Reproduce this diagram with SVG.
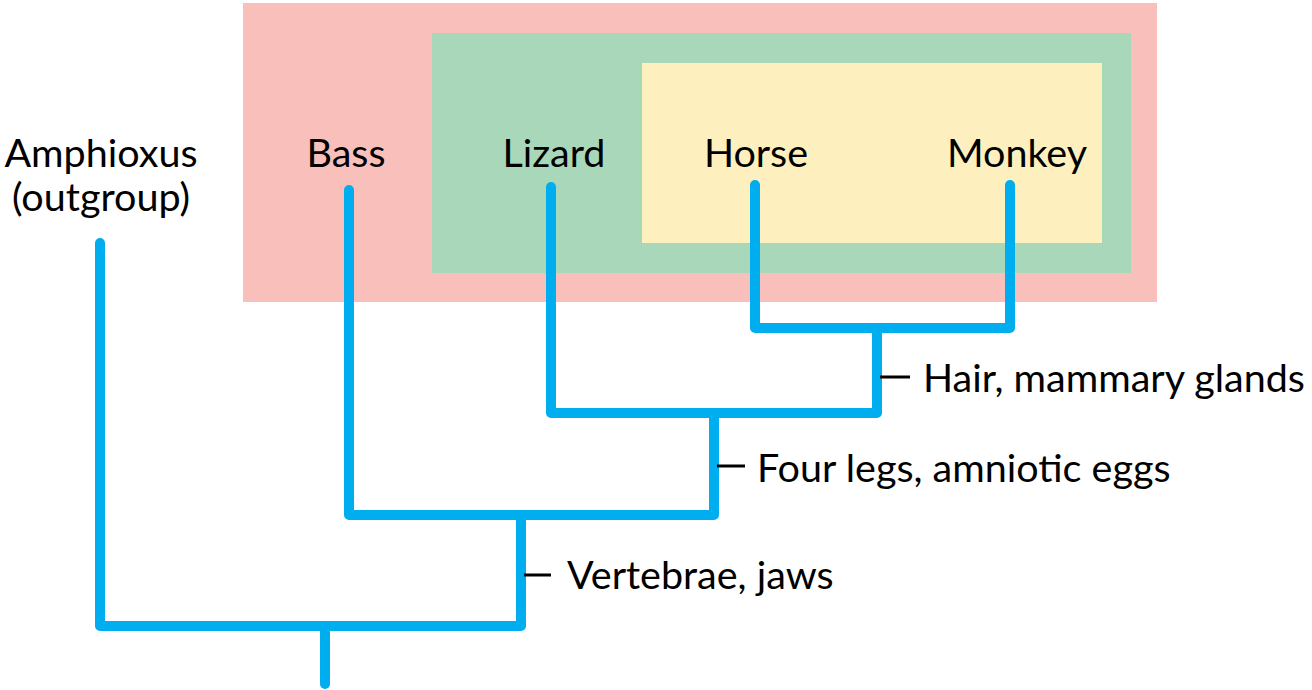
<svg xmlns="http://www.w3.org/2000/svg" width="1312" height="690" viewBox="0 0 1312 690">
<style>
.lbl{font-family:"Lato","Liberation Sans",sans-serif;font-size:39.5px;fill:#000}
.br{fill:none;stroke:#00AEEF;stroke-width:10;stroke-linecap:round;stroke-linejoin:round}
.tick{stroke:#000;stroke-width:3}
</style>
<rect width="1312" height="690" fill="#fff"/>
<g id="clade-vertebrates"><rect x="243" y="3" width="914" height="299" fill="#F8BFBB"/></g>
<g id="clade-tetrapods"><rect x="432" y="33" width="699" height="240" fill="#A8D8B9"/></g>
<g id="clade-mammals"><rect x="642" y="63" width="460" height="180" fill="#FEF0BE"/></g>
<g id="connectors">
<path class="br" d="M100,243 V626 H521 V515"/>
<path class="br" d="M325,626 V684"/>
<path class="br" d="M349,190 V515 H714 V413"/>
<path class="br" d="M551,187 V413 H877 V328"/>
<path class="br" d="M755,185 V328 H1010 V185"/>
<line class="tick" x1="524" y1="575" x2="551" y2="575"/>
<line class="tick" x1="717" y1="466" x2="745" y2="466"/>
<line class="tick" x1="880" y1="377" x2="910" y2="377"/>
</g>
<g id="amphioxus"><text class="lbl" x="101" y="167" text-anchor="middle">Amphioxus</text><text class="lbl" x="101" y="211" text-anchor="middle">(outgroup)</text></g>
<g id="bass"><text class="lbl" x="346" y="167" text-anchor="middle">Bass</text></g>
<g id="lizard"><text class="lbl" x="554" y="167" text-anchor="middle">Lizard</text></g>
<g id="horse"><text class="lbl" x="756" y="167" text-anchor="middle">Horse</text></g>
<g id="monkey"><text class="lbl" x="1017" y="167" text-anchor="middle">Monkey</text></g>
<g id="hair"><text class="lbl" x="923" y="392">Hair, mammary glands</text></g>
<g id="fourlegs"><text class="lbl" x="757" y="482">Four legs, amniotic eggs</text></g>
<g id="vertebrae"><text class="lbl" x="567" y="589">Vertebrae, jaws</text></g>
</svg>
